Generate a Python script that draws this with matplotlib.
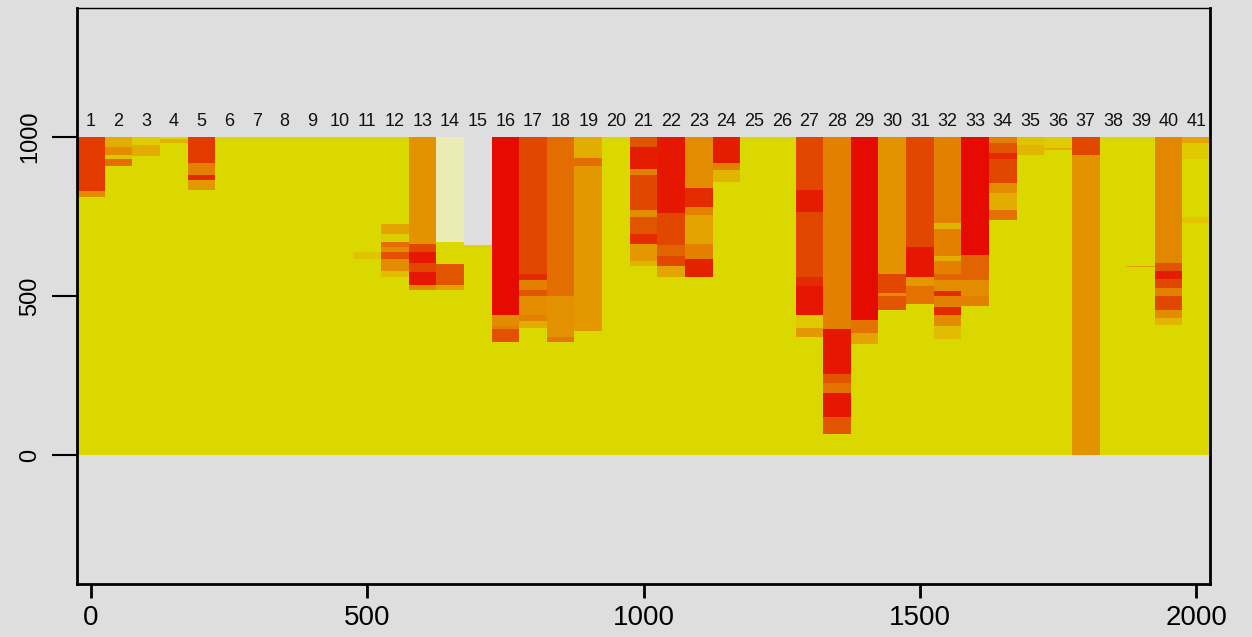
import numpy as np
import matplotlib.pyplot as plt
from matplotlib.colors import LinearSegmentedColormap

# column ids and their x positions
col_labels = [str(i) for i in range(1, 42)]
col_x = np.arange(0, 2001, 50)

# bands per column: (column, top, bottom, level) ; level 0 = yellow, 1 = red
# level -1 = pale, level None = missing
bands = [
    (1, 1000, 830, 0.8), (1, 830, 810, 0.5),
    (2, 1000, 970, 0.35), (2, 970, 945, 0.5), (2, 945, 930, 0.2), (2, 930, 912, 0.62),
    (3, 1000, 975, 0.12), (3, 975, 940, 0.35),
    (4, 995, 980, 0.3),
    (5, 1000, 922, 0.8), (5, 922, 880, 0.55), (5, 880, 865, 0.85), (5, 865, 833, 0.45),
    (11, 639, 613, 0.2),
    (12, 723, 697, 0.4), (12, 697, 671, 0.1), (12, 671, 655, 0.62), (12, 655, 639, 0.5),
    (12, 639, 613, 0.72), (12, 613, 582, 0.5), (12, 582, 561, 0.25),
    (13, 1000, 666, 0.47), (13, 666, 639, 0.75), (13, 639, 603, 0.92), (13, 603, 577, 0.75),
    (13, 577, 535, 0.92), (13, 535, 519, 0.5),
    (14, 1000, 671, -1), (14, 598, 535, 0.7), (14, 535, 519, 0.4),
    (15, 1000, 660, None), (15, 660, 650, 0.05),
    (16, 1000, 440, 0.96), (16, 440, 403, 0.5), (16, 403, 393, 0.55), (16, 393, 356, 0.72),
    (17, 1000, 571, 0.75), (17, 571, 550, 0.85), (17, 550, 519, 0.55), (17, 519, 498, 0.7),
    (17, 498, 440, 0.5), (17, 440, 419, 0.55), (17, 419, 398, 0.35),
    (18, 1000, 498, 0.62), (18, 498, 372, 0.48), (18, 372, 355, 0.58),
    (19, 1000, 933, 0.35), (19, 933, 912, 0.62), (19, 912, 390, 0.45),
    (21, 1000, 970, 0.7), (21, 970, 901, 0.9), (21, 901, 880, 0.55), (21, 880, 771, 0.75),
    (21, 771, 750, 0.5), (21, 750, 697, 0.7), (21, 697, 666, 0.85), (21, 666, 608, 0.45),
    (21, 608, 593, 0.3),
    (22, 1000, 760, 0.92), (22, 760, 661, 0.75), (22, 661, 624, 0.65), (22, 624, 593, 0.75),
    (22, 593, 561, 0.4),
    (23, 1000, 839, 0.5), (23, 839, 781, 0.85), (23, 781, 755, 0.55), (23, 755, 666, 0.4),
    (23, 666, 613, 0.55), (23, 613, 561, 0.88),
    (24, 1000, 922, 0.9), (24, 922, 896, 0.55), (24, 896, 859, 0.3),
    (27, 1000, 833, 0.75), (27, 833, 765, 0.9), (27, 765, 561, 0.75), (27, 561, 530, 0.85),
    (27, 530, 441, 0.92), (27, 441, 399, 0.15), (27, 399, 372, 0.45),
    (28, 1000, 393, 0.55), (28, 393, 257, 0.92), (28, 257, 226, 0.7), (28, 226, 194, 0.6),
    (28, 194, 120, 0.92), (28, 120, 63, 0.7),
    (29, 1000, 425, 0.96), (29, 425, 383, 0.6), (29, 383, 351, 0.4),
    (30, 1000, 571, 0.47), (30, 571, 509, 0.75), (30, 509, 498, 0.5), (30, 498, 456, 0.7),
    (31, 1000, 655, 0.75), (31, 655, 561, 0.92), (31, 561, 530, 0.45), (31, 530, 477, 0.6),
    (32, 1000, 728, 0.55), (32, 728, 708, 0.3), (32, 708, 624, 0.55), (32, 624, 608, 0.35),
    (32, 608, 571, 0.55), (32, 571, 550, 0.65), (32, 550, 514, 0.5), (32, 514, 498, 0.85),
    (32, 498, 467, 0.55), (32, 467, 440, 0.85), (32, 440, 403, 0.5), (32, 403, 367, 0.25),
    (33, 1000, 629, 0.96), (33, 629, 550, 0.65), (33, 550, 498, 0.5), (33, 498, 470, 0.55),
    (34, 1000, 980, 0.55), (34, 980, 949, 0.7), (34, 949, 928, 0.85), (34, 928, 855, 0.75),
    (34, 855, 823, 0.5), (34, 823, 771, 0.35), (34, 771, 739, 0.6),
    (35, 1000, 975, 0.2), (35, 975, 943, 0.3),
    (36, 1000, 965, 0.12), (36, 965, 958, 0.35),
    (37, 1000, 943, 0.75), (37, 943, 0, 0.47),
    (39, 597, 590, 0.45),
    (40, 1000, 603, 0.52), (40, 603, 582, 0.7), (40, 582, 556, 0.9), (40, 556, 524, 0.75),
    (40, 524, 498, 0.55), (40, 498, 456, 0.75), (40, 456, 430, 0.5), (40, 430, 409, 0.3),
    (41, 1000, 980, 0.4), (41, 980, 928, 0.15), (41, 750, 730, 0.2),
]

# grid of cells, 5 units tall
y_edges = np.arange(0, 1001, 5)
x_edges = np.append(col_x - 25, col_x[-1] + 25)
y_mid = (y_edges[:-1] + y_edges[1:]) / 2
grid = np.zeros((len(y_mid), len(col_x)))
for col, top, bottom, level in bands:
    rows = (y_mid < top) & (y_mid > bottom)
    grid[rows, col - 1] = np.nan if level is None else level
grid = np.ma.masked_invalid(grid)

heat = LinearSegmentedColormap.from_list(
    "heat", [(0, "#dbd800"), (0.2, "#e0c400"), (0.4, "#e3a400"), (0.55, "#e38000"),
             (0.75, "#e24800"), (1.0, "#e60000")])
heat.set_under("#ebebb6")
heat.set_bad((0, 0, 0, 0))

bg = "#dedede"
fig = plt.figure(figsize=(12.52, 6.37), dpi=100, facecolor=bg)
ax = fig.add_axes([0.0615, 0.0832, 0.905, 0.9042])
ax.set_facecolor(bg)
ax.pcolormesh(x_edges, y_edges, grid, cmap=heat, vmin=0, vmax=1, shading="flat")

for x, lab in zip(col_x, col_labels):
    ax.text(x, 1050, lab, ha="center", va="center", fontsize=13,
            family="Liberation Sans", color="#111111")

ax.set_xlim(-25, 2025)
ax.set_ylim(-406, 1406)
ax.set_xticks([0, 500, 1000, 1500, 2000])
ax.set_yticks([0, 500, 1000])
ax.tick_params(axis="x", length=10, width=2, pad=5, labelsize=20)
ax.tick_params(axis="y", length=18, width=1.5, pad=8, labelsize=17, labelrotation=90)
for t in ax.get_yticklabels():
    t.set_verticalalignment("center")
for t in ax.get_xticklabels() + ax.get_yticklabels():
    t.set_family("Liberation Sans")
for s in ax.spines.values():
    s.set_linewidth(2)
ax.spines["top"].set_linewidth(1)

fig.savefig("out.png", dpi=100, facecolor=bg)
